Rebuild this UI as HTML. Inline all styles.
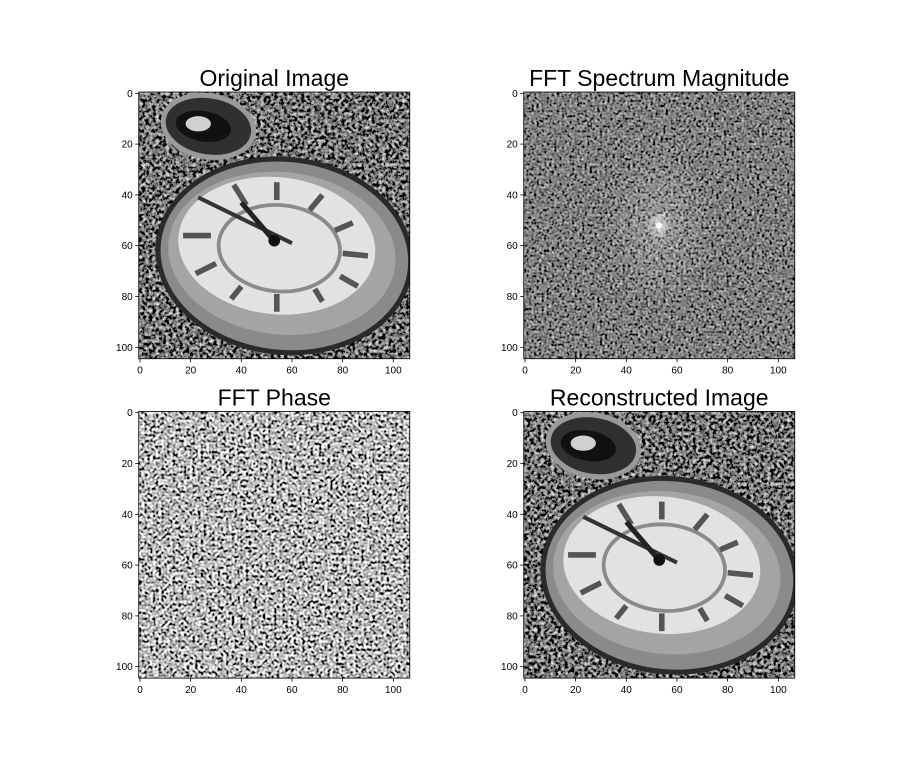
<!DOCTYPE html>
<html><head><meta charset="utf-8"><style>
body{margin:0;background:#fff;}
svg text{font-family:"Liberation Sans","DejaVu Sans",sans-serif;}
</style></head><body>
<svg id="fig" width="910" height="759" xmlns="http://www.w3.org/2000/svg">
<defs>
<filter id="grainMid" x="0" y="0" width="100%" height="100%">
 <feTurbulence type="fractalNoise" baseFrequency="0.75" numOctaves="2" seed="7"/>
 <feColorMatrix type="matrix" values="0.33 0.33 0.33 0 0  0.33 0.33 0.33 0 0  0.33 0.33 0.33 0 0  0 0 0 0 1"/>
 <feComponentTransfer><feFuncR type="linear" slope="3" intercept="-1.3"/><feFuncG type="linear" slope="3" intercept="-1.3"/><feFuncB type="linear" slope="3" intercept="-1.3"/></feComponentTransfer>
</filter>
<filter id="phase" x="0" y="0" width="100%" height="100%">
 <feTurbulence type="fractalNoise" baseFrequency="0.9" numOctaves="1" seed="11"/>
 <feColorMatrix type="matrix" values="0.33 0.33 0.33 0 0  0.33 0.33 0.33 0 0  0.33 0.33 0.33 0 0  0 0 0 0 1"/>
 <feComponentTransfer><feFuncR type="linear" slope="5" intercept="-2.0"/><feFuncG type="linear" slope="5" intercept="-2.0"/><feFuncB type="linear" slope="5" intercept="-2.0"/></feComponentTransfer>
</filter>
<filter id="spec" x="0" y="0" width="100%" height="100%">
 <feTurbulence type="fractalNoise" baseFrequency="1.0" numOctaves="1" seed="5"/>
 <feColorMatrix type="matrix" values="0.33 0.33 0.33 0 0  0.33 0.33 0.33 0 0  0.33 0.33 0.33 0 0  0 0 0 0 1"/>
 <feComponentTransfer><feFuncR type="linear" slope="2" intercept="-0.78"/><feFuncG type="linear" slope="2" intercept="-0.78"/><feFuncB type="linear" slope="2" intercept="-0.78"/></feComponentTransfer>
</filter>
<radialGradient id="glow"><stop offset="0" stop-color="#fff" stop-opacity="1"/><stop offset="0.15" stop-color="#fff" stop-opacity="0.6"/><stop offset="1" stop-color="#fff" stop-opacity="0"/></radialGradient>
<g id="clock">
 <rect x="-0.5" y="-0.5" width="107" height="105" filter="url(#grainMid)"/>
 <ellipse cx="27" cy="13" rx="18" ry="12" fill="#303030" transform="rotate(10 27 13)"/>
 <ellipse cx="27" cy="13" rx="18" ry="12" fill="none" stroke="#9a9a9a" stroke-width="2" transform="rotate(10 27 13)"/>
 <ellipse cx="25" cy="13" rx="11" ry="6" fill="#111" transform="rotate(10 25 13)"/>
 <ellipse cx="23" cy="12" rx="5" ry="3" fill="#d0d0d0"/>
 <ellipse cx="57" cy="64" rx="51" ry="39" fill="#2a2a2a" transform="rotate(6 57 64)"/>
 <ellipse cx="57" cy="64" rx="49" ry="37" fill="#8a8a8a" transform="rotate(6 57 64)"/>
 <ellipse cx="56" cy="63" rx="45" ry="32" fill="#a4a4a4" transform="rotate(6 56 63)"/>
 <ellipse cx="54" cy="60" rx="39" ry="27" fill="#e2e2e2" transform="rotate(6 54 60)"/>
 <ellipse cx="55" cy="61" rx="24" ry="17" fill="none" stroke="#8a8a8a" stroke-width="1.5" transform="rotate(5 55 61)"/>
 <g stroke="#555" stroke-width="2.2">
  <line x1="54" y1="35" x2="54" y2="42"/><line x1="72" y1="40" x2="67" y2="46"/><line x1="84" y1="51" x2="77" y2="54"/>
  <line x1="90" y1="64" x2="80" y2="63"/><line x1="86" y1="76" x2="79" y2="72"/><line x1="72" y1="82" x2="69" y2="77"/>
  <line x1="54" y1="86" x2="54" y2="79"/><line x1="36" y1="81" x2="40" y2="76"/><line x1="22" y1="71" x2="30" y2="67"/>
  <line x1="17" y1="56" x2="28" y2="56"/><line x1="37" y1="36" x2="42" y2="44"/>
 </g>
 <line x1="23" y1="41" x2="60" y2="59" stroke="#333" stroke-width="1.6"/>
 <line x1="40" y1="43" x2="52" y2="57" stroke="#222" stroke-width="2"/>
 <circle cx="53" cy="58" r="2.3" fill="#111"/>
</g>
<clipPath id="cp"><rect x="-0.5" y="-0.5" width="107" height="105"/></clipPath>
</defs>
<g id="panels"></g>
</svg>
<script>
const panelTitles = ["Original Image","FFT Spectrum Magnitude","FFT Phase","Reconstructed Image"];
const xTicks = [0,20,40,60,80,100];
const yTicks = [0,20,40,60,80,100];
const xExtent = [-0.5,106.5];
const yExtent = [-0.5,104.5];
const origins = [[140,93.3],[525,93.3],[140,412.7],[525,412.7]];
const sx = 2.533, sy = 2.54;
const NS="http://www.w3.org/2000/svg";
const root=document.getElementById('panels');
function mk(t,a,p){const e=document.createElementNS(NS,t);for(const k in a)e.setAttribute(k,a[k]);(p||root).appendChild(e);return e;}
const names=["original-image","fft-magnitude","fft-phase","reconstructed-image"];
origins.forEach((o,i)=>{
  const X=v=>o[0]+v*sx, Y=v=>o[1]+v*sy;
  const g=mk('g',{});
  
  
  const img=mk('g',{transform:`translate(${o[0]},${o[1]}) scale(${sx},${sy})`,'clip-path':'url(#cp)'},g);
  
  
  if(i===0||i===3){ mk('use',{href:'#clock'},img); }
  else if(i===1){
    mk('rect',{x:-0.5,y:-0.5,width:107,height:105,filter:'url(#spec)'},img);
    mk('ellipse',{cx:53,cy:52,rx:22,ry:32,fill:'url(#glow)',opacity:0.3},img);
    mk('ellipse',{cx:53,cy:52,rx:5,ry:6,fill:'url(#glow)',opacity:0.9},img);
    mk('circle',{cx:53,cy:52,r:1.2,fill:'#fff'},img);
  } else {
    mk('rect',{x:-0.5,y:-0.5,width:107,height:105,filter:'url(#phase)'},img);
  }
  mk('rect',{x:X(xExtent[0]),y:Y(yExtent[0]),width:(xExtent[1]-xExtent[0])*sx,height:(yExtent[1]-yExtent[0])*sy,fill:'none',stroke:'#000','stroke-width':0.8},g);
  xTicks.forEach(t=>{
    mk('line',{x1:X(t),x2:X(t),y1:Y(yExtent[1]),y2:Y(yExtent[1])+3.5,stroke:'#000','stroke-width':0.8},g);
    const tx=mk('text',{x:X(t),y:Y(yExtent[1])+15,'font-size':10,'text-anchor':'middle'},g);
    tx.textContent=t;
    
    
  });
  yTicks.forEach(t=>{
    mk('line',{x1:X(xExtent[0])-3.5,x2:X(xExtent[0]),y1:Y(t),y2:Y(t),stroke:'#000','stroke-width':0.8},g);
    const tx=mk('text',{x:X(xExtent[0])-6,y:Y(t)+3.5,'font-size':10,'text-anchor':'end'},g);
    tx.textContent=t;
    
    
  });
  const ti=mk('text',{x:(X(xExtent[0])+X(xExtent[1]))/2,y:Y(yExtent[0])-6,'font-size':23,'text-anchor':'middle'},g);
  ti.textContent=panelTitles[i];
  
  
});
</script>
</body></html>
